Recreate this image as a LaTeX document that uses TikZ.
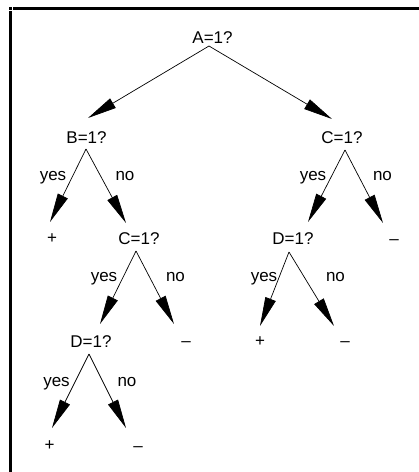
\documentclass[tikz,border=0pt]{standalone}
\usepackage{fontspec}
\setmainfont{Liberation Sans}
\usetikzlibrary{arrows.meta}
\begin{document}
\begin{tikzpicture}[x=1pt,y=-1pt,
  lbl/.style={inner sep=0pt,anchor=base,font=\fontsize{17}{20}\selectfont},
  branch/.style={line width=0.7pt,-{Triangle[length=29pt,width=11pt]}},
  frameline/.style={line width=3pt}]
\useasboundingbox (0,0) rectangle (419,472);
% frame edges
\fill (9,7) rectangle (12,10);
\draw[frameline] (13,8.5) -- (419,8.5);
\draw[frameline] (10.5,11) -- (10.5,472);

% decision and leaf labels
\node[lbl] (A)  at (212.5,43.5) {A=1?};
\node[lbl] (B)  at (86.5,143.5) {B=1?};
\node[lbl] (C1) at (342,143.5) {C=1?};
\node[lbl] (P1) at (52,243.5) {+};
\node[lbl] (C2) at (139,244) {C=1?};
\node[lbl] (D1) at (293,244) {D=1?};
\node[lbl] (M1) at (394,244) {--};
\node[lbl] (D2) at (91,347) {D=1?};
\node[lbl] (M2) at (186,346) {--};
\node[lbl] (P2) at (260,346) {+};
\node[lbl] (M3) at (345,346) {--};
\node[lbl] (P3) at (49.5,450.5) {+};
\node[lbl] (M4) at (138,451) {--};

% branch end points
\coordinate (Aout) at (209,46);
\coordinate (Bin)  at (88,118);
\coordinate (C1in) at (332,119);
\coordinate (Bout) at (86,149);
\coordinate (P1in) at (50,222);
\coordinate (C2in) at (126,223);
\coordinate (C1out) at (345,150);
\coordinate (D1in) at (308,222);
\coordinate (M1in) at (383,223);
\coordinate (C2out) at (136,251);
\coordinate (D2in) at (100,324);
\coordinate (M2in) at (174,324);
\coordinate (D1out) at (289,252);
\coordinate (P2in) at (260,326);
\coordinate (M3in) at (334,326);
\coordinate (D2out) at (89,354);
\coordinate (P3in) at (52,428);
\coordinate (M4in) at (126,428);

% branches
\draw[branch] (Aout) -- (Bin);
\draw[branch] (Aout) -- (C1in);
\draw[branch] (Bout) -- (P1in);
\draw[branch] (Bout) -- (C2in);
\draw[branch] (C1out) -- (D1in);
\draw[branch] (C1out) -- (M1in);
\draw[branch] (C2out) -- (D2in);
\draw[branch] (C2out) -- (M2in);
\draw[branch] (D1out) -- (P2in);
\draw[branch] (D1out) -- (M3in);
\draw[branch] (D2out) -- (P3in);
\draw[branch] (D2out) -- (M4in);

% branch labels
\node[lbl] (y1) at (53,180) {yes};
\node[lbl] (n1) at (125,180) {no};
\node[lbl] (y2) at (313,180) {yes};
\node[lbl] (n2) at (382.5,180) {no};
\node[lbl] (y3) at (104,281) {yes};
\node[lbl] (n3) at (175.5,281) {no};
\node[lbl] (y4) at (264,281) {yes};
\node[lbl] (n4) at (335.5,281) {no};
\node[lbl] (y5) at (56.5,386) {yes};
\node[lbl] (n5) at (127,386) {no};
\end{tikzpicture}
\end{document}
